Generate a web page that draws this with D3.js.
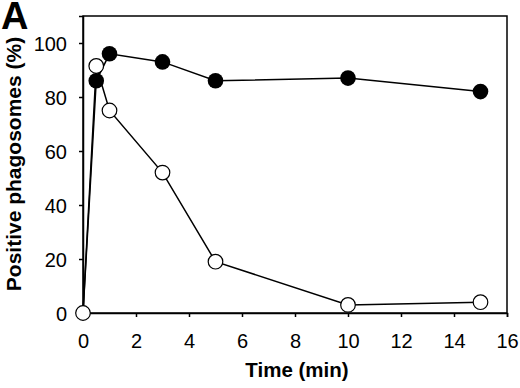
<!DOCTYPE html>
<html><head><meta charset="utf-8">
<script src="https://cdn.jsdelivr.net/npm/d3@7"></script>
<style>body{margin:0;background:#fff}svg{display:block}</style>
</head><body>
<svg id="c" width="520" height="388"></svg>
<script>
const time = [0, 0.5, 1, 3, 5, 10, 15];
const filledSeries = [0, 86, 96, 93, 86, 87, 82];
const openSeries = [0, 91.5, 75, 52, 19, 3, 4];
const xTicks = [0, 2, 4, 6, 8, 10, 12, 14, 16];
const yTicks = [0, 20, 40, 60, 80, 100];

const svg = d3.select("#c");
const font = "Liberation Sans, Arial, Helvetica, sans-serif";
const L = 83, R = 507, T = 16, B = 313;
const x = d3.scaleLinear().domain([0, 16]).range([L, R]);
const y = d3.scaleLinear().domain([0, 110]).range([B, T]);

// frame
svg.append("rect").attr("x", L).attr("y", T).attr("width", R - L).attr("height", B - T)
  .attr("fill", "none").attr("stroke", "#000").attr("stroke-width", 1.5);

const xa = svg.append("g").attr("transform", `translate(0,${B})`)
  .call(d3.axisBottom(x).tickValues(xTicks).tickSize(4).tickPadding(17).tickFormat(d3.format("d")));
const ya = svg.append("g").attr("transform", `translate(${L},0)`)
  .call(d3.axisLeft(y).tickValues(yTicks).tickSize(4).tickPadding(12).tickFormat(d3.format("d")));
[xa, ya].forEach(a => {
  a.select(".domain").attr("stroke-width", 1.5);
  a.selectAll(".tick line").attr("stroke-width", 1.5);
  a.selectAll("text").attr("font-family", font).attr("font-size", 20).attr("fill", "#000");
});
ya.selectAll("text").attr("dy", "0.36em");

const line = d3.line().x((d, i) => x(time[i])).y(d => y(d));
svg.append("path").datum(filledSeries).attr("d", line).attr("fill", "none").attr("stroke", "#000").attr("stroke-width", 1.5);
svg.append("path").datum(openSeries).attr("d", line).attr("fill", "none").attr("stroke", "#000").attr("stroke-width", 1.5);

svg.selectAll(".fo").data(openSeries).enter().append("circle")
  .attr("cx", (d, i) => x(time[i])).attr("cy", d => y(d)).attr("r", 7.3)
  .attr("fill", "#fff").attr("stroke", "#000").attr("stroke-width", 1.2);
svg.selectAll(".ff").data(filledSeries).enter().filter((d, i) => i > 0).append("circle")
  .attr("cx", (d, i) => x(time[i + 1])).attr("cy", d => y(d)).attr("r", 7.8)
  .attr("fill", "#000");

svg.append("text").attr("x", 297).attr("y", 377).attr("text-anchor", "middle")
  .attr("font-family", font).attr("font-weight", "bold").attr("font-size", 20.5).text("Time (min)");
svg.append("text").attr("transform", `translate(21,164) rotate(-90)`).attr("text-anchor", "middle")
  .attr("font-family", font).attr("font-weight", "bold").attr("font-size", 21).text("Positive phagosomes (%)");
svg.append("text").attr("x", 1).attr("y", 29)
  .attr("font-family", font).attr("font-weight", "bold").attr("font-size", 38).text("A");
</script>
</body></html>
